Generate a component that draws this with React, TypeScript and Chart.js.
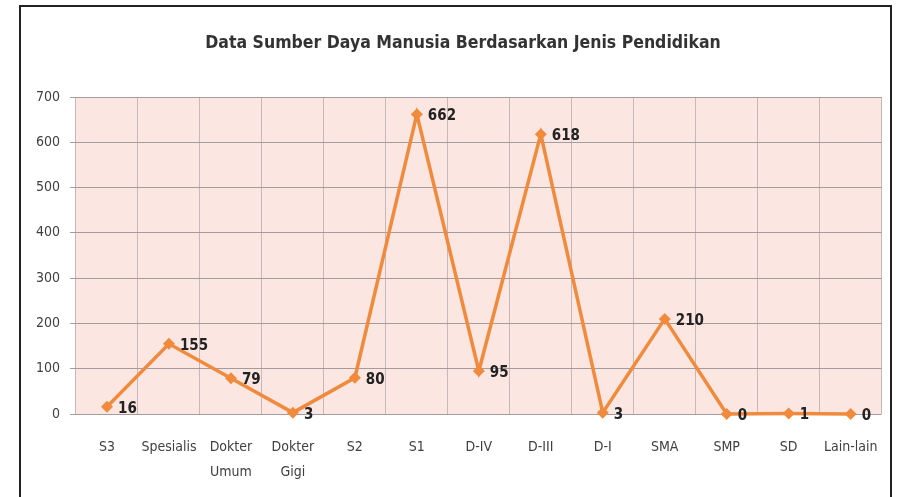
import React, { useEffect, useRef } from "react";
import { Chart, registerables } from "chart.js";

Chart.register(...registerables);

const TITLE = "Data Sumber Daya Manusia Berdasarkan Jenis Pendidikan";
const categories: (string | string[])[] = [
  "S3",
  "Spesialis",
  ["Dokter", "Umum"],
  ["Dokter", "Gigi"],
  "S2",
  "S1",
  "D-IV",
  "D-III",
  "D-I",
  "SMA",
  "SMP",
  "SD",
  "Lain-lain",
];
const values = [16, 155, 79, 3, 80, 662, 95, 618, 3, 210, 0, 1, 0];
const yMin = 0;
const yMax = 700;
const yStep = 100;

const FONT = "'DejaVu Sans Condensed', 'Liberation Sans Narrow', 'Open Sans', sans-serif";

export default function App() {
  const ref = useRef<HTMLCanvasElement | null>(null);
  useEffect(() => {
    if (!ref.current) return;
    const bgPlugin = {
      id: "bg",
      beforeDraw(chart: any) {
        const { ctx, chartArea } = chart;
        ctx.save();
        ctx.fillStyle = "#fbe6e1";
        ctx.fillRect(chartArea.left, chartArea.top, chartArea.right - chartArea.left, chartArea.bottom - chartArea.top);
        ctx.restore();
      },
      afterDraw(chart: any) {
        const { ctx } = chart;
        ctx.save();
        ctx.fillStyle = "#333333";
        ctx.font = "bold 17.5px " + FONT;
        ctx.textAlign = "center";
        ctx.textBaseline = "middle";
        ctx.fillText(TITLE, 463, 43);
        ctx.restore();
      },
    };
    const labelPlugin = {
      id: "dlabels",
      afterDatasetsDraw(chart: any) {
        const { ctx } = chart;
        const meta = chart.getDatasetMeta(0);
        ctx.save();
        ctx.fillStyle = "#222222";
        ctx.font = "bold 15px " + FONT;
        ctx.textAlign = "left";
        ctx.textBaseline = "middle";
        meta.data.forEach((pt: any, i: number) => {
          ctx.fillText(String(values[i]), pt.x + 11, pt.y + 2);
        });
        ctx.restore();
      },
    };
    const chart = new Chart(ref.current, {
      type: "line",
      data: {
        labels: categories,
        datasets: [
          {
            data: values,
            borderColor: "#f08a3c",
            backgroundColor: "#f08a3c",
            borderWidth: 3.5,
            pointStyle: "rectRot",
            pointRadius: 6,
            pointBorderWidth: 0,
            tension: 0,
            clip: false as any,
          },
        ],
      },
      options: {
        animation: false,
        responsive: false,
        maintainAspectRatio: false,
        layout: { padding: { top: 97, left: 0, right: 16, bottom: 0 } },
        plugins: { legend: { display: false }, title: { display: false }, tooltip: { enabled: false } },
        scales: {
          x: {
            offset: true,
            grid: { offset: true, color: "#c4b8b8", lineWidth: 1, drawTicks: false },
            border: { display: false },
            ticks: {
              color: "#404040",
              font: { family: FONT, size: 14, lineHeight: 1.85 },
              padding: 20,
              maxRotation: 0,
              autoSkip: false,
            },
            afterFit(scale: any) {
              scale.height = 83;
            },
          },
          y: {
            min: yMin,
            max: yMax,
            grid: { color: "#a29c9c", lineWidth: 1, tickLength: 6 },
            border: { display: false },
            ticks: {
              stepSize: yStep,
              color: "#404040",
              font: { family: FONT, size: 14 },
              padding: 10,
            },
            afterFit(scale: any) {
              scale.width = 76;
            },
          },
        },
      },
      plugins: [bgPlugin, labelPlugin],
    });
    return () => chart.destroy();
  }, []);
  return (
    <div style={{ position: "fixed", left: 0, top: 0, width: 898, height: 497, background: "#fff", overflow: "hidden" }}>
      <canvas ref={ref} width={898} height={497} style={{ position: "absolute", left: 0, top: 0 }} />
      <div
        style={{
          position: "absolute",
          left: 19,
          top: 5,
          width: 869,
          height: 520,
          border: "2px solid #222",
          pointerEvents: "none",
        }}
      />
    </div>
  );
}
